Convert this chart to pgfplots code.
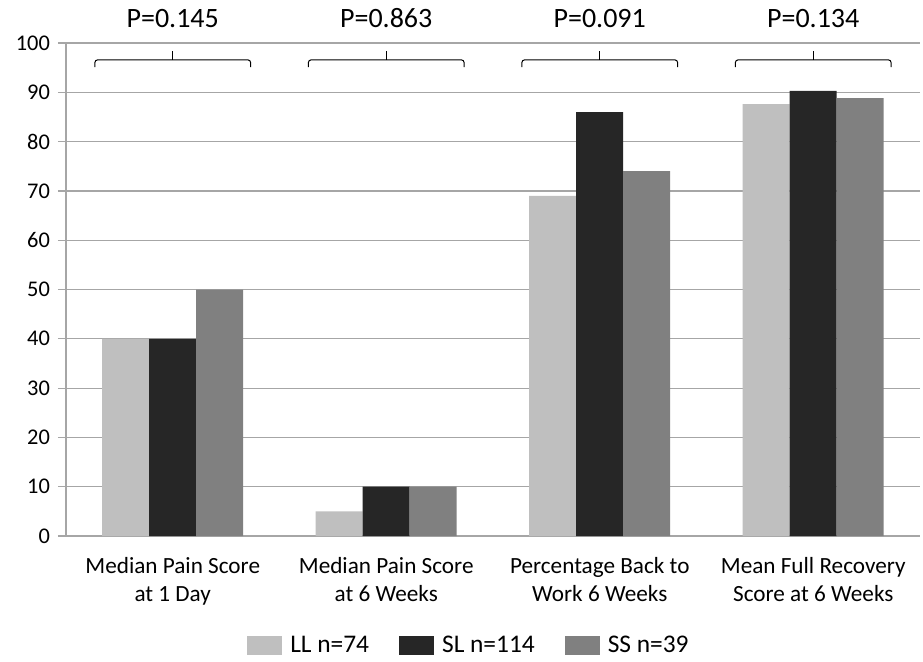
\documentclass[border=0pt]{standalone}
\usepackage{fontspec}
\setmainfont{Carlito}
\usepackage{pgfplots}
\pgfplotsset{compat=1.18}
\definecolor{cLL}{RGB}{191,191,191}
\definecolor{cSL}{RGB}{38,38,38}
\definecolor{cSS}{RGB}{128,128,128}
\definecolor{gridc}{RGB}{166,166,166}
\begin{document}
\begin{tikzpicture}
\useasboundingbox (-33pt,-62.5pt) rectangle (428.5pt,268pt);
\begin{axis}[
  scale only axis, width=427pt, height=246.5pt,
  at={(0,0)}, anchor=south west,
  xmin=-0.5, xmax=3.5, ymin=0, ymax=100,
  clip=false,
  ybar=0pt, bar width=23.5pt,
  axis x line*=bottom, axis y line*=left,
  axis line style={gridc, line width=0.6pt},
  ytick={0,10,...,100},
  ymajorgrids, grid style={gridc, line width=0.6pt},
  tick align=outside,
  y tick style={gridc, line width=0.6pt},
  major tick length=4pt,
  /pgf/number format/assume math mode=true,
  yticklabel style={font=\fontsize{11.2}{13}\selectfont, xshift=-0.5pt},
  xtick={0,1,2,3},
  xticklabels={{Median Pain Score\\at 1 Day},{Median Pain Score\\at 6 Weeks},{Percentage Back to\\Work 6 Weeks},{Mean Full Recovery\\Score at 6 Weeks}},
  xticklabel style={align=center, font=\fontsize{11.6}{14}\selectfont, yshift=-3pt},
  x tick style={draw=none},
  extra x ticks={-0.5,0.5,1.5,2.5,3.5},
  extra x tick labels={},
  extra x tick style={x tick style={gridc, line width=0.6pt}, major tick length=4pt, tick align=outside},
  legend style={at={(0.473,-0.223)}, anchor=center, draw=none, legend columns=3,
    font=\fontsize{12.7}{15}\selectfont,
    /tikz/every odd column/.append style={column sep=2pt},
    /tikz/every even column/.append style={column sep=13pt}},
  legend image code/.code={\draw[#1, draw=none] (0pt,-4.75pt) rectangle (17.5pt,4.75pt);},
]
\addplot[fill=cLL, draw=none] coordinates {(0,40) (1,5) (2,69) (3,87.6)};
\addlegendentry{LL n=74}
\addplot[fill=cSL, draw=none] coordinates {(0,40) (1,10) (2,86) (3,90.3)};
\addlegendentry{SL n=114}
\addplot[fill=cSS, draw=none] coordinates {(0,50) (1,10) (2,74) (3,88.8)};
\addlegendentry{SS n=39}

\draw[black, line width=0.5pt, rounded corners=1.5pt] (axis cs:-0.365,95.1) -- (axis cs:-0.365,96.6) -- (axis cs:0.365,96.6) -- (axis cs:0.365,95.1);
\draw[black, line width=0.5pt] (axis cs:0,96.6) -- (axis cs:0,98.4);
\draw[black, line width=0.5pt, rounded corners=1.5pt] (axis cs:0.635,95.1) -- (axis cs:0.635,96.6) -- (axis cs:1.365,96.6) -- (axis cs:1.365,95.1);
\draw[black, line width=0.5pt] (axis cs:1,96.6) -- (axis cs:1,98.4);
\draw[black, line width=0.5pt, rounded corners=1.5pt] (axis cs:1.635,95.1) -- (axis cs:1.635,96.6) -- (axis cs:2.365,96.6) -- (axis cs:2.365,95.1);
\draw[black, line width=0.5pt] (axis cs:2,96.6) -- (axis cs:2,98.4);
\draw[black, line width=0.5pt, rounded corners=1.5pt] (axis cs:2.635,95.1) -- (axis cs:2.635,96.6) -- (axis cs:3.365,96.6) -- (axis cs:3.365,95.1);
\draw[black, line width=0.5pt] (axis cs:3,96.6) -- (axis cs:3,98.4);

\node[font=\fontsize{14}{16}\selectfont, text height=1.7ex] at (axis cs:0,104.7) {P=0.145};
\node[font=\fontsize{14}{16}\selectfont, text height=1.7ex] at (axis cs:1,104.7) {P=0.863};
\node[font=\fontsize{14}{16}\selectfont, text height=1.7ex] at (axis cs:2,104.7) {P=0.091};
\node[font=\fontsize{14}{16}\selectfont, text height=1.7ex] at (axis cs:3,104.7) {P=0.134};
\end{axis}
\end{tikzpicture}
\end{document}
